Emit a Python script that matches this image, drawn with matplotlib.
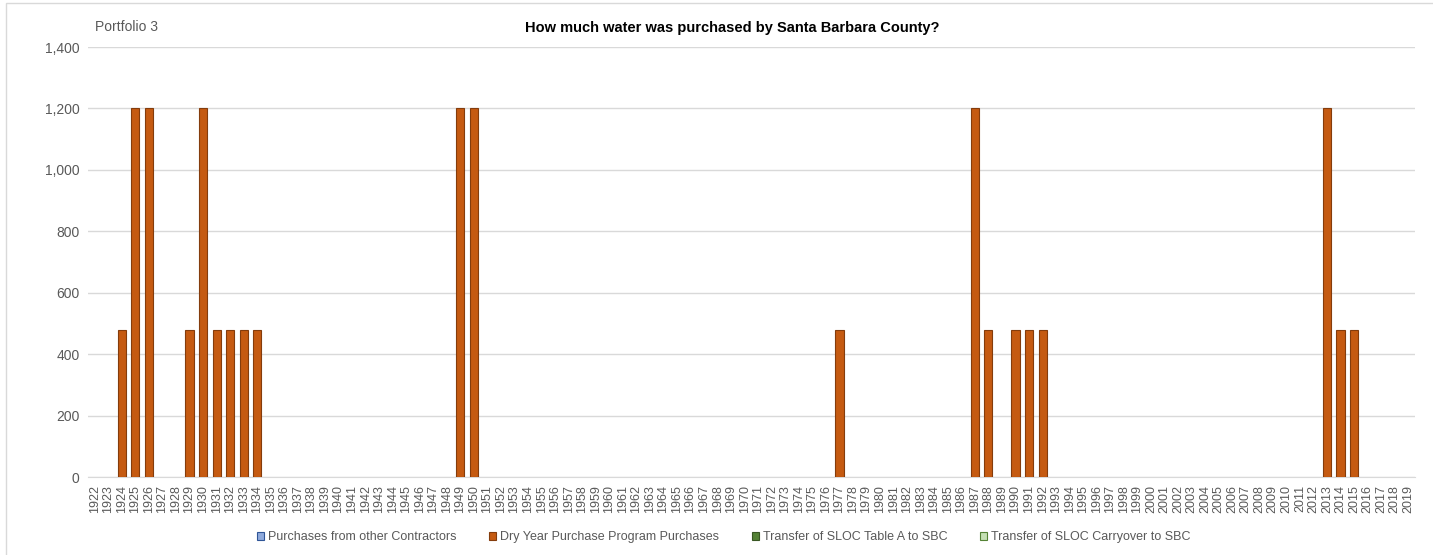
import numpy as np
import matplotlib
matplotlib.use("Agg")
import matplotlib.pyplot as plt
from matplotlib.patches import Patch, Rectangle

plt.rcParams['font.family'] = ['Liberation Sans', 'DejaVu Sans']

years = list(range(1922, 2020))
dry_year = {1924: 480, 1925: 1200, 1926: 1200, 1929: 480, 1930: 1200,
            1931: 480, 1932: 480, 1933: 480, 1934: 480, 1949: 1200,
            1950: 1200, 1977: 480, 1987: 1200, 1988: 480, 1990: 480,
            1991: 480, 1992: 480, 2013: 1200, 2014: 480, 2015: 480}
other_contractors = [0] * len(years)
dry_purchases = [dry_year.get(y, 0) for y in years]
sloc_table_a = [0] * len(years)
sloc_carryover = [0] * len(years)

series_names = ['Purchases from other Contractors', 'Dry Year Purchase Program Purchases',
                'Transfer of SLOC Table A to SBC', 'Transfer of SLOC Carryover to SBC']
colors = ['#8FAADC', '#C55A11', '#548235', '#C5E0B4']
edges = ['#2F5597', '#843C0C', '#385723', '#548235']

fig = plt.figure(figsize=(14.33, 5.55), dpi=100)
ax = fig.add_axes([0.0614, 0.1405, 0.926, 0.7748])

x = np.arange(len(years))
bottom = np.zeros(len(years))
for vals, c, e in zip([other_contractors, dry_purchases, sloc_table_a, sloc_carryover], colors, edges):
    v = np.array(vals, dtype=float)
    mask = v > 0
    ax.bar(x[mask], v[mask], bottom=bottom[mask], width=0.6, color=c, edgecolor=e, linewidth=0.8, zorder=3)
    bottom += v

ax.set_xlim(-0.5, len(years) - 0.5)
ax.set_ylim(0, 1400)
ax.set_yticks(np.arange(0, 1401, 200))
ax.set_yticklabels([f'{v:,}' for v in range(0, 1401, 200)], fontsize=10, color='#595959')
ax.set_xticks(x)
ax.set_xticklabels([str(y) for y in years], rotation=90, fontsize=9, color='#595959')
ax.tick_params(length=0, pad=6)
ax.grid(axis='y', color='#D9D9D9', linewidth=1, zorder=0)
for s in ['top', 'right', 'left']:
    ax.spines[s].set_visible(False)
ax.spines['bottom'].set_color('#D9D9D9')

fig.text(0.511, 0.95, 'How much water was purchased by Santa Barbara County?', ha='center', va='center',
         fontsize=10.5, fontweight='bold', color='black')
fig.text(0.066, 0.952, 'Portfolio 3', ha='left', va='center', fontsize=10, color='#595959')

handles = [Patch(facecolor=c, edgecolor=e, linewidth=0.8) for c, e in zip(colors, edges)]
fig.legend(handles, series_names, loc='center', bbox_to_anchor=(0.505, 0.032), ncol=4, frameon=False,
           fontsize=9, handlelength=0.6, handleheight=0.6, handletextpad=0.3, columnspacing=2.6,
           labelcolor='#595959')

fig.add_artist(Rectangle((0.004, -0.01), 1.0, 1.004, transform=fig.transFigure, fill=False,
                         edgecolor='#D9D9D9', linewidth=1))

fig.savefig('out.png', dpi=100)
